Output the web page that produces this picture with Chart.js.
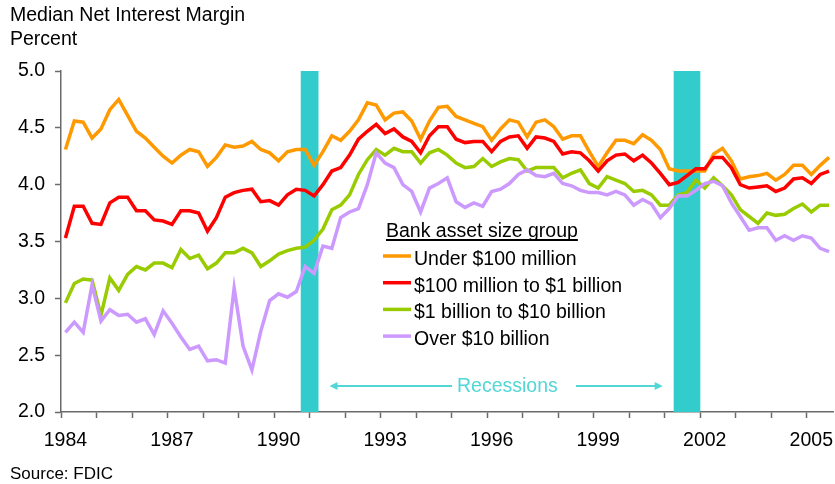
<!DOCTYPE html>
<html><head><meta charset="utf-8">
<script src="https://cdn.jsdelivr.net/npm/chart.js@4.4.1/dist/chart.umd.min.js"></script>
<style>html,body{margin:0;padding:0;background:#fff;}#wrap{position:relative;width:835px;height:484px;}</style>
</head><body><div id="wrap"><canvas id="c" width="835" height="484"></canvas></div>
<script>
const chartTitle = ['Median Net Interest Margin', 'Percent'];
const sourceNote = 'Source: FDIC';
const legendTitle = 'Bank asset size group';
const recessionLabel = 'Recessions';
const seriesNames = ['Under $100 million', '$100 million to $1 billion', '$1 billion to $10 billion', 'Over $10 billion'];
const seriesColors = ['#FF9900', '#FF0000', '#99CC00', '#CC99FF'];
const firstYear = 1984, lastYear = 2005, lastQuarterOfLastYear = 3;
const yearTickLabels = [1984, 1987, 1990, 1993, 1996, 1999, 2002, 2005];
const recessions = [['1990 Q4', '1991 Q1'], ['2001 Q2', '2001 Q4']];
const quarters = [];
for (let y = firstYear; y <= lastYear; y++) for (let q = 1; q <= 4; q++) { if (y === lastYear && q > lastQuarterOfLastYear) break; quarters.push(y + ' Q' + q); }

const under100m = [4.31,4.56,4.55,4.41,4.49,4.66,4.75,4.61,4.47,4.41,4.33,4.25,4.19,4.26,4.31,4.29,4.16,4.24,4.35,4.33,4.34,4.38,4.31,4.28,4.21,4.29,4.31,4.31,4.17,4.29,4.43,4.39,4.47,4.57,4.72,4.70,4.57,4.63,4.64,4.56,4.40,4.56,4.68,4.69,4.60,4.57,4.54,4.51,4.39,4.49,4.57,4.55,4.42,4.55,4.57,4.51,4.40,4.43,4.43,4.29,4.16,4.28,4.39,4.39,4.36,4.44,4.39,4.31,4.14,4.12,4.12,4.12,4.12,4.27,4.32,4.21,4.05,4.07,4.08,4.10,4.04,4.09,4.17,4.17,4.09,4.17,4.24];
const m100to1b = [3.53,3.81,3.81,3.66,3.65,3.84,3.89,3.89,3.77,3.77,3.69,3.68,3.65,3.77,3.77,3.75,3.59,3.71,3.89,3.93,3.95,3.96,3.85,3.86,3.82,3.91,3.96,3.95,3.90,4.00,4.12,4.15,4.26,4.40,4.47,4.53,4.45,4.49,4.42,4.38,4.28,4.43,4.51,4.51,4.40,4.37,4.38,4.38,4.29,4.38,4.42,4.43,4.32,4.42,4.41,4.38,4.27,4.29,4.28,4.21,4.12,4.21,4.26,4.27,4.21,4.26,4.19,4.10,4.00,4.02,4.08,4.14,4.14,4.24,4.24,4.15,4.00,3.97,3.98,3.99,3.94,3.97,4.05,4.06,4.01,4.09,4.12];
const b1to10b = [2.96,3.13,3.17,3.16,2.85,3.18,3.07,3.21,3.28,3.25,3.31,3.31,3.27,3.43,3.35,3.38,3.26,3.31,3.40,3.40,3.44,3.40,3.28,3.33,3.39,3.42,3.44,3.45,3.51,3.61,3.78,3.82,3.91,4.09,4.22,4.31,4.26,4.32,4.29,4.29,4.19,4.28,4.31,4.26,4.19,4.15,4.16,4.23,4.16,4.20,4.23,4.22,4.12,4.15,4.15,4.15,4.06,4.10,4.13,4.01,3.97,4.07,4.04,4.01,3.94,3.95,3.91,3.82,3.82,3.91,3.93,4.04,3.97,4.06,3.99,3.91,3.78,3.72,3.66,3.75,3.73,3.74,3.79,3.83,3.76,3.82,3.82];
const over10b = [2.70,2.79,2.70,3.12,2.80,2.90,2.85,2.86,2.79,2.82,2.68,2.89,2.78,2.66,2.55,2.58,2.45,2.46,2.43,3.09,2.58,2.37,2.71,2.98,3.04,3.01,3.06,3.28,3.22,3.46,3.44,3.71,3.76,3.79,4.00,4.28,4.19,4.15,4.00,3.94,3.76,3.97,4.01,4.06,3.85,3.80,3.84,3.81,3.94,3.96,4.01,4.09,4.13,4.08,4.07,4.10,4.01,3.99,3.95,3.93,3.93,3.91,3.94,3.91,3.82,3.87,3.83,3.71,3.79,3.90,3.90,3.95,4.01,4.03,3.99,3.84,3.72,3.60,3.62,3.62,3.51,3.55,3.51,3.55,3.53,3.44,3.41];
const yMin = 2.0, yMax = 5.0, yStep = 0.5;

const FONT = '"Liberation Sans", Arial, Helvetica, sans-serif';
const AXIS = '#6a6a6a';
const CYAN = '#33CCCC';
const CYAN_TEXT = '#52D6D6';

const seriesData = [under100m, m100to1b, b1to10b, over10b];

const decor = {
  id: 'decor',
  beforeDatasetsDraw(chart) {
    const ctx = chart.ctx, xs = chart.scales.x, a = chart.chartArea;
    const band = xs.getPixelForValue(1) - xs.getPixelForValue(0);
    ctx.save();
    ctx.fillStyle = CYAN;
    recessions.forEach(([s, e]) => {
      const x0 = xs.getPixelForValue(quarters.indexOf(s)) - band / 2;
      const x1 = xs.getPixelForValue(quarters.indexOf(e)) + band / 2;
      ctx.fillRect(x0, a.top, x1 - x0, a.bottom - a.top);
    });
    ctx.restore();
  },
  afterDraw(chart) {
    const ctx = chart.ctx, xs = chart.scales.x;
    const band = xs.getPixelForValue(1) - xs.getPixelForValue(0);
    ctx.save();
    ctx.fillStyle = '#000';
    ctx.textBaseline = 'alphabetic';
    ctx.textAlign = 'left';
    ctx.font = '19.5px ' + FONT;
    ctx.fillText(chartTitle[0], 10, 21);
    ctx.fillText(chartTitle[1], 10, 45);
    ctx.font = '17px ' + FONT;
    ctx.fillText(sourceNote, 10, 479);

    // legend
    ctx.font = '19.5px ' + FONT;
    const lx = 386;
    ctx.fillText(legendTitle, lx, 237);
    const tw = ctx.measureText(legendTitle).width;
    ctx.fillRect(lx, 239, tw, 2);
    seriesNames.forEach((n, i) => {
      const base = 265 + i * 26.7;
      ctx.strokeStyle = seriesColors[i];
      ctx.lineWidth = 3.5;
      ctx.beginPath();
      ctx.moveTo(383, base - 9);
      ctx.lineTo(411, base - 9);
      ctx.stroke();
      ctx.fillStyle = '#000';
      ctx.fillText(n, 414, base);
    });

    // recession annotation
    const r1 = xs.getPixelForValue(quarters.indexOf(recessions[0][1])) + band / 2;
    const r2 = xs.getPixelForValue(quarters.indexOf(recessions[1][0])) - band / 2;
    const ay = 386;
    const lt = r1 + 11, rt = r2 - 11;
    ctx.strokeStyle = CYAN_TEXT;
    ctx.fillStyle = CYAN_TEXT;
    ctx.lineWidth = 2;
    ctx.beginPath(); ctx.moveTo(lt + 6, ay); ctx.lineTo(452, ay); ctx.stroke();
    ctx.beginPath(); ctx.moveTo(lt, ay); ctx.lineTo(lt + 8, ay - 4); ctx.lineTo(lt + 8, ay + 4); ctx.closePath(); ctx.fill();
    ctx.beginPath(); ctx.moveTo(576, ay); ctx.lineTo(rt - 6, ay); ctx.stroke();
    ctx.beginPath(); ctx.moveTo(rt, ay); ctx.lineTo(rt - 8, ay - 4); ctx.lineTo(rt - 8, ay + 4); ctx.closePath(); ctx.fill();
    ctx.font = '19.5px ' + FONT;
    ctx.fillText(recessionLabel, 457, 391.5);
    ctx.restore();
  }
};

new Chart(document.getElementById('c'), {
  type: 'line',
  data: {
    labels: quarters,
    datasets: seriesNames.map((n, i) => ({
      label: n,
      data: seriesData[i],
      borderColor: seriesColors[i],
      backgroundColor: seriesColors[i],
      borderWidth: 3.5,
      pointRadius: 0,
      tension: 0,
      fill: false,
      order: seriesNames.length - i
    }))
  },
  options: {
    responsive: false,
    animation: false,
    events: [],
    layout: { padding: { top: 71, right: 1.5, bottom: 0, left: 0 } },
    plugins: { legend: { display: false }, tooltip: { enabled: false }, title: { display: false } },
    scales: {
      x: {
        type: 'category',
        offset: true,
        border: { color: AXIS, width: 1.5 },
        grid: {
          offset: true,
          drawOnChartArea: false,
          drawTicks: true,
          tickLength: 6,
          tickWidth: 1.5,
          tickColor: (c) => (c.index !== undefined && c.index % 4 === 0) ? AXIS : 'rgba(0,0,0,0)'
        },
        ticks: {
          autoSkip: false,
          maxRotation: 0,
          padding: 11,
          color: '#000',
          font: { family: FONT, size: 19.5 },
          callback: (v, i) => {
            const q = quarters[i];
            const yr = parseInt(q, 10);
            return (q.endsWith('Q1') && yearTickLabels.includes(yr)) ? String(yr) : '';
          }
        },
        afterFit: (s) => { s.height = 72; s.paddingLeft = 0; s.paddingRight = 0; }
      },
      y: {
        min: yMin, max: yMax,
        border: { color: AXIS, width: 1.5 },
        grid: { drawOnChartArea: false, drawTicks: true, tickLength: 6, tickWidth: 1.5, tickColor: AXIS },
        ticks: {
          stepSize: yStep,
          padding: 10,
          color: '#000',
          font: { family: FONT, size: 19.5 },
          callback: (v) => Number(v).toFixed(1)
        },
        afterFit: (s) => { s.width = 61; s.paddingTop = 0; s.paddingBottom = 0; }
      }
    }
  },
  plugins: [decor]
});
</script></body></html>
